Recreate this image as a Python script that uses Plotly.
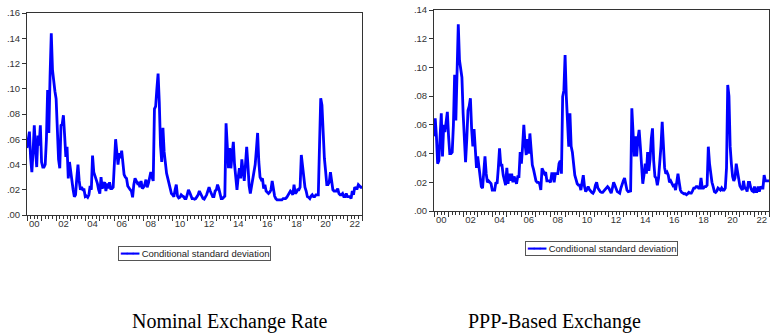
import plotly.graph_objects as go
import pandas as pd

# conditional standard deviation, monthly from 2000M01
nominal = [
    0.053, 0.058, 0.066, 0.045, 0.034, 0.050, 0.071, 0.052, 0.038, 0.063, 0.055, 0.071,
    0.042, 0.038, 0.038, 0.040, 0.060, 0.099, 0.065, 0.110, 0.144, 0.115, 0.105, 0.098,
    0.092, 0.066, 0.044, 0.037, 0.071, 0.072, 0.079, 0.063, 0.046, 0.054, 0.029, 0.042,
    0.034, 0.024, 0.020, 0.0145, 0.016, 0.029, 0.040, 0.027, 0.020, 0.022, 0.020, 0.020,
    0.0145, 0.015, 0.014, 0.016, 0.023, 0.020, 0.047, 0.034, 0.031, 0.029, 0.025, 0.020,
    0.017, 0.030, 0.021, 0.024, 0.026, 0.019, 0.025, 0.021, 0.026, 0.021, 0.021,
    0.022, 0.040, 0.060, 0.050, 0.040, 0.049, 0.045, 0.051, 0.040, 0.032, 0.030, 0.029,
    0.023, 0.021, 0.020, 0.019, 0.014, 0.024, 0.029, 0.027, 0.025, 0.026, 0.022, 0.027,
    0.021, 0.022, 0.024, 0.028, 0.022, 0.025, 0.029, 0.034, 0.030, 0.027, 0.084, 0.086,
    0.100, 0.112, 0.089, 0.055, 0.042, 0.069, 0.050, 0.041, 0.033, 0.029, 0.024, 0.019,
    0.017, 0.016, 0.0145, 0.020, 0.024, 0.015, 0.0135, 0.014, 0.016, 0.015, 0.0145, 0.013,
    0.013, 0.016, 0.020, 0.018, 0.016, 0.013, 0.013, 0.0125, 0.013, 0.0145, 0.016, 0.019,
    0.017, 0.0145, 0.013, 0.0125, 0.014, 0.016, 0.019, 0.022, 0.019, 0.017, 0.0145, 0.0145,
    0.019, 0.020, 0.024, 0.021, 0.017, 0.013, 0.013, 0.0145, 0.015, 0.0727, 0.058, 0.037,
    0.053, 0.037, 0.048, 0.058, 0.040, 0.028, 0.020, 0.030, 0.037, 0.029, 0.044, 0.035,
    0.027, 0.040, 0.054, 0.040, 0.023, 0.017, 0.022, 0.028, 0.035, 0.040, 0.052, 0.065,
    0.042, 0.030, 0.028, 0.029, 0.021, 0.024, 0.019, 0.018, 0.017, 0.018, 0.020, 0.027,
    0.019, 0.015, 0.013, 0.012, 0.012, 0.012, 0.012, 0.012, 0.013, 0.013, 0.013,
    0.014, 0.016, 0.017, 0.019, 0.018, 0.016, 0.024, 0.017, 0.018, 0.020, 0.020, 0.022,
    0.0475, 0.037, 0.027, 0.022, 0.019, 0.0145, 0.014, 0.013, 0.015, 0.016, 0.0145, 0.0145,
    0.016, 0.016, 0.016, 0.055, 0.0924, 0.087, 0.058, 0.045, 0.035, 0.024, 0.024, 0.026,
    0.034, 0.024, 0.020, 0.019, 0.019, 0.019, 0.021, 0.017, 0.016, 0.016, 0.017, 0.0145,
    0.0145, 0.017, 0.0145, 0.0145, 0.0145, 0.013, 0.019, 0.016, 0.022, 0.021, 0.021, 0.024,
    0.023, 0.022, 0.022,
]

ppp = [
    0.052, 0.0646, 0.052, 0.033, 0.035, 0.050, 0.068, 0.038, 0.060, 0.055, 0.062, 0.069,
    0.052, 0.040, 0.040, 0.041, 0.060, 0.0948, 0.063, 0.100, 0.130, 0.105, 0.098, 0.093,
    0.068, 0.044, 0.034, 0.050, 0.070, 0.073, 0.0785, 0.057, 0.045, 0.057, 0.044, 0.030,
    0.038, 0.030, 0.0228, 0.017, 0.016, 0.025, 0.038, 0.026, 0.020, 0.021, 0.020, 0.019,
    0.0146, 0.0146, 0.0146, 0.020, 0.019, 0.030, 0.0437, 0.032, 0.032, 0.025, 0.021, 0.018,
    0.030, 0.019, 0.026, 0.021, 0.026, 0.020, 0.024, 0.022, 0.019, 0.024, 0.024, 0.041,
    0.033, 0.045, 0.060, 0.047, 0.039, 0.050, 0.040, 0.054, 0.044, 0.032, 0.029, 0.025,
    0.021, 0.020, 0.020, 0.019, 0.0146, 0.0297, 0.027, 0.026, 0.027, 0.021, 0.021, 0.021,
    0.020, 0.026, 0.026, 0.020, 0.026, 0.026, 0.026, 0.033, 0.035, 0.026, 0.0797, 0.084,
    0.1087, 0.080, 0.058, 0.0448, 0.068, 0.045, 0.041, 0.030, 0.025, 0.022, 0.019, 0.018,
    0.018, 0.0146, 0.020, 0.025, 0.017, 0.0135, 0.015, 0.017, 0.015, 0.0135, 0.013, 0.0124,
    0.014, 0.018, 0.020, 0.016, 0.0145, 0.0135, 0.013, 0.013, 0.014, 0.015, 0.016,
    0.017, 0.016, 0.0135, 0.0124, 0.016, 0.020, 0.018, 0.016, 0.0135, 0.013, 0.0124, 0.016,
    0.019, 0.021, 0.023, 0.018, 0.0145, 0.0135, 0.0135, 0.014, 0.0715, 0.052, 0.038, 0.052,
    0.038, 0.050, 0.0565, 0.045, 0.030, 0.019, 0.025, 0.033, 0.026, 0.041, 0.028, 0.036,
    0.050, 0.0576, 0.035, 0.024, 0.023, 0.018, 0.023, 0.032, 0.045, 0.0622, 0.042, 0.030,
    0.026, 0.027, 0.025, 0.020, 0.021, 0.019, 0.0175, 0.018, 0.0146, 0.020, 0.026, 0.020,
    0.0146, 0.013, 0.0124, 0.012, 0.012, 0.0113, 0.012, 0.013, 0.0124, 0.0124, 0.014, 0.016,
    0.016, 0.017, 0.017, 0.016, 0.016, 0.023, 0.016, 0.016, 0.017, 0.017, 0.018, 0.0448,
    0.033, 0.025, 0.020, 0.017, 0.0135, 0.013, 0.014, 0.016, 0.015, 0.0146, 0.016, 0.0146,
    0.0146, 0.016, 0.030, 0.0878, 0.080, 0.045, 0.033, 0.024, 0.021, 0.023, 0.033, 0.028,
    0.023, 0.0175, 0.016, 0.0146, 0.021, 0.016, 0.016, 0.0135, 0.020, 0.020, 0.016, 0.014,
    0.0135, 0.017, 0.0135, 0.0135, 0.017, 0.0135, 0.017, 0.016, 0.016, 0.025, 0.021, 0.021,
    0.021, 0.021,
]

label_years = list(range(2000, 2023, 2))
left_yticks = [0.00, 0.02, 0.04, 0.06, 0.08, 0.10, 0.12, 0.14, 0.16]
right_yticks = [0.00, 0.02, 0.04, 0.06, 0.08, 0.10, 0.12, 0.14]
captions = ["Nominal Exchange Rate", "PPP-Based Exchange"]
series_name = "Conditional standard deviation"

months = pd.date_range("2000-01-01", periods=len(nominal), freq="MS")
t = (months.year + (months.month - 1) / 12).tolist()
x_end = t[-1]

W, H = 774, 335
BLUE = "#0000ff"
AX = "#333333"
tickfont = dict(family="Liberation Sans, Arial", size=9.5, color="#333333")


def ylab(v):
    return f"{v:.2f}"[1:]


fig = go.Figure()
fig.add_trace(go.Scatter(x=t, y=nominal, mode="lines", name=series_name,
                         line=dict(color=BLUE, width=2.8), xaxis="x", yaxis="y"))
fig.add_trace(go.Scatter(x=t, y=ppp, mode="lines", name=series_name,
                         line=dict(color=BLUE, width=2.8), xaxis="x2", yaxis="y2"))
# dummy traces so the tick-mark axes get drawn
fig.add_trace(go.Scatter(x=[t[0]], y=[None], xaxis="x3", yaxis="y", hoverinfo="skip"))
fig.add_trace(go.Scatter(x=[t[0]], y=[None], xaxis="x4", yaxis="y2", hoverinfo="skip"))

panels = [
    # (x px, y px, yticks, legend box centre)
    ((27, 362), (13, 215), left_yticks, (194, 253)),
    ((434, 769), (10, 211), right_yticks, (601, 248)),
]

for i, ((x0, x1), (y0, y1), yt, (lx, ly)) in enumerate(panels):
    xs = "" if i == 0 else "2"
    dom_x = [x0 / W, x1 / W]
    dom_y = [1 - y1 / H, 1 - y0 / H]
    fig.layout["xaxis" + xs] = dict(
        domain=dom_x, anchor="y" + xs, range=[t[0], x_end], automargin=False,
        tickmode="array", tickvals=[y + 0.5 for y in label_years],
        ticktext=[f"{y % 100:02d}" for y in label_years],
        ticks="", tickfont=tickfont, showgrid=False, zeroline=False,
        showline=True, linecolor=AX, linewidth=1, mirror=True,
    )
    fig.layout["yaxis" + xs] = dict(
        domain=dom_y, anchor="x" + xs, range=[yt[0], yt[-1]], automargin=False,
        tickmode="array", tickvals=yt, ticktext=[ylab(v) for v in yt],
        ticks="outside", ticklen=4, tickcolor=AX, tickfont=tickfont,
        showgrid=False, zeroline=False,
        showline=True, linecolor=AX, linewidth=1, mirror=True,
    )
    fig.layout["xaxis" + str(3 + i)] = dict(
        overlaying="x" + xs, anchor="y" + xs, range=[t[0], x_end], automargin=False,
        tickmode="linear", tick0=2000, dtick=1, ticks="outside", ticklen=5,
        tickcolor=AX, showticklabels=False, showgrid=False, zeroline=False,
        showline=False,
        minor=dict(dtick=0.25, tick0=2000, ticks="outside", ticklen=2.5, tickcolor=AX),
    )
    # EViews-style legend box under each panel
    fig.add_annotation(
        x=lx / W, y=1 - ly / H, xref="paper", yref="paper",
        xanchor="center", yanchor="middle", showarrow=False,
        text=f"<span style='color:{BLUE}'><b>━━━</b></span> {series_name}",
        font=dict(family="Liberation Sans, Arial", size=9.5, color="#222222"),
        bgcolor="white", bordercolor="#555555", borderwidth=1, borderpad=1,
    )

fig.update_layout(
    width=W, height=H,
    margin=dict(l=0, r=0, t=0, b=0),
    paper_bgcolor="white", plot_bgcolor="white",
    showlegend=False,
)

for cx, text in zip([230, 554], captions):
    fig.add_annotation(
        x=cx / W, y=1 - 321 / H, xref="paper", yref="paper",
        xanchor="center", yanchor="middle", text=text, showarrow=False,
        font=dict(family="Liberation Serif, Times New Roman", size=20, color="black"),
    )

# drop the page's default body margin so the figure sits at the window's corner
fig.write_html("out.html", config={"displayModeBar": False},
               post_script="document.body.style.margin='0';")
